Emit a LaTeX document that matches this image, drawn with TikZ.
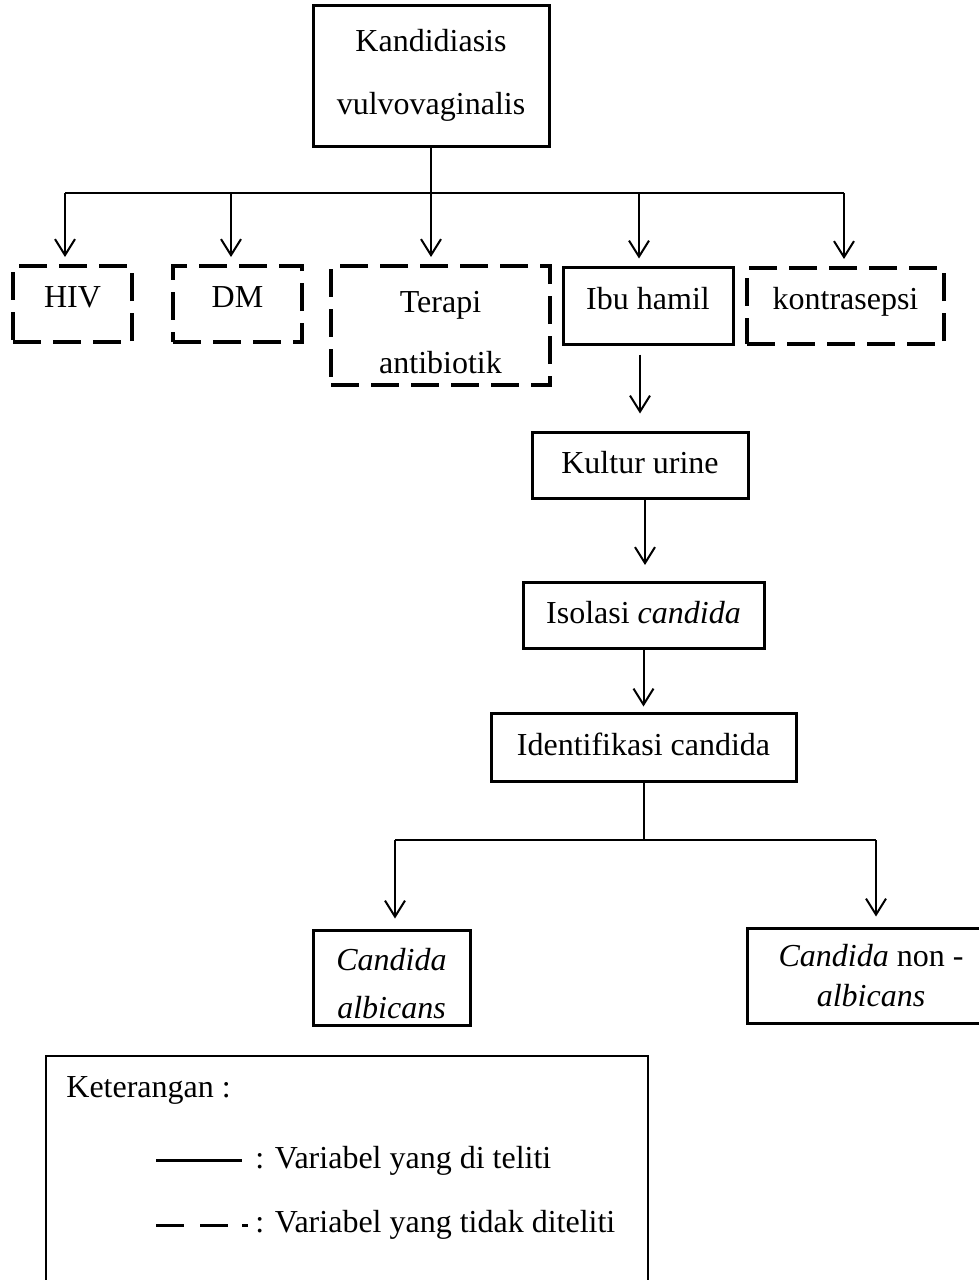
\documentclass[tikz,border=0pt]{standalone}
\usepackage{fontspec}
\setmainfont{Liberation Serif}
\usetikzlibrary{arrows.meta}

\begin{document}
\begin{tikzpicture}[x=0.5pt, y=-0.5pt, font=\fontsize{16}{20}\selectfont,
  box/.style={draw, line width=1.5pt, inner sep=0pt, align=center},
  dbox/.style={box, line width=2pt, dash pattern=on 14pt off 6pt},
  up/.style={text height=11pt, text depth=8pt},
  low/.style={text height=11pt, text depth=3pt},
  link/.style={line width=1pt},
  arr/.style={link, -{Straight Barb[length=8pt, width=10pt]}},
  key/.style={line width=1.5pt}]
  \useasboundingbox (0,0) rectangle (979,1280);

  \node[box, minimum width=118pt, minimum height=70.5pt,
    font=\fontsize{16}{31.5}\selectfont] (kvv) at (431,75.5) {Kandidiasis\\vulvovaginalis};

  \node[dbox, up, minimum width=59.5pt, minimum height=38pt] (hiv) at (72.5,304) {HIV};
  \node[dbox, up, minimum width=64.5pt, minimum height=38pt] (dm) at (237.5,304) {DM};
  \node[dbox, minimum width=109.5pt, minimum height=59.5pt,
    font=\fontsize{16}{30.5}\selectfont] (ter) at (440.5,325.5) {\rule{0pt}{18pt}Terapi\\antibiotik};
  \node[box, text height=11pt, text depth=7.5pt, minimum width=85pt, minimum height=38.5pt] (ibu) at (648,305.5) {Ibu hamil};
  \node[dbox, up, minimum width=98.5pt, minimum height=38pt] (kon) at (845.5,306) {kontrasepsi};

  \node[box, low, minimum width=108pt, minimum height=33pt] (kul) at (640,465) {Kultur urine};
  \node[box, low, minimum width=120.5pt, minimum height=33pt] (iso) at (643.5,615) {Isolasi \textit{candida}};
  \node[box, text height=11pt, text depth=3pt, minimum width=152.5pt, minimum height=34pt] (ide) at (643.5,747) {Identifikasi candida};

  \node[box, minimum width=78.5pt, minimum height=47.5pt,
    font=\fontsize{16}{24}\selectfont] (alb) at (391.5,977.5) {\rule{0pt}{17pt}\textit{Candida}\\\textit{albicans}};
  \node[box, minimum width=124pt, minimum height=47.5pt,
    font=\fontsize{16}{20}\selectfont] (non) at (871,975.5) {\textit{Candida} non -\\\textit{albicans}};

  \coordinate (b1) at (65,193);
  \coordinate (b2) at (231,193);
  \coordinate (b3) at (431,193);
  \coordinate (b4) at (639,193);
  \coordinate (b5) at (844,193);
  \draw[link] (kvv.south) -- (b3);
  \draw[link] (b1) -- (b5);
  \draw[arr, shorten >=3.5pt] (b1) -- (b1 |- hiv.north);
  \draw[arr, shorten >=3.5pt] (b2) -- (b2 |- dm.north);
  \draw[arr, shorten >=3.5pt] (b3) -- (b3 |- ter.north);
  \draw[arr, shorten >=3.5pt] (b4) -- (b4 |- ibu.north);
  \draw[arr, shorten >=3.5pt] (b5) -- (b5 |- kon.north);

  \draw[arr, shorten <=4.5pt, shorten >=8.5pt] (kul.north |- ibu.south) -- (kul.north);
  \draw[arr, shorten >=8.5pt] (645,498) -- (645,582);
  \draw[arr, shorten >=2.5pt] (iso.south) -- (ide.north);

  \coordinate (c0) at (643.5,840);
  \coordinate (c1) at (395,840);
  \coordinate (c2) at (876,840);
  \draw[link] (ide.south) -- (c0);
  \draw[link] (c1) -- (c2);
  \draw[arr, shorten >=5pt] (c1) -- (c1 |- alb.north);
  \draw[arr, shorten >=5pt] (c2) -- (c2 |- non.north);

  \node[draw, line width=1pt, anchor=north west, minimum width=301pt, minimum height=130pt] (leg) at (45,1055) {};
  \node[anchor=base west, inner sep=0pt] (ket) at (66,1097) {Keterangan :};
  \coordinate (s1) at (156,1160);
  \coordinate (s2) at (242,1160);
  \draw[key] (s1) -- (s2);
  \node[anchor=base west, inner sep=0pt] (t1) at (255,1168) {: Variabel yang di teliti};
  \coordinate (d1) at (156,1225);
  \coordinate (d2) at (248,1225);
  \draw[key, dash pattern=on 14pt off 8pt on 14pt off 7pt on 3pt] (d1) -- (d2);
  \node[anchor=base west, inner sep=0pt] (t2) at (255,1232) {: Variabel yang tidak diteliti};
\end{tikzpicture}
\end{document}
